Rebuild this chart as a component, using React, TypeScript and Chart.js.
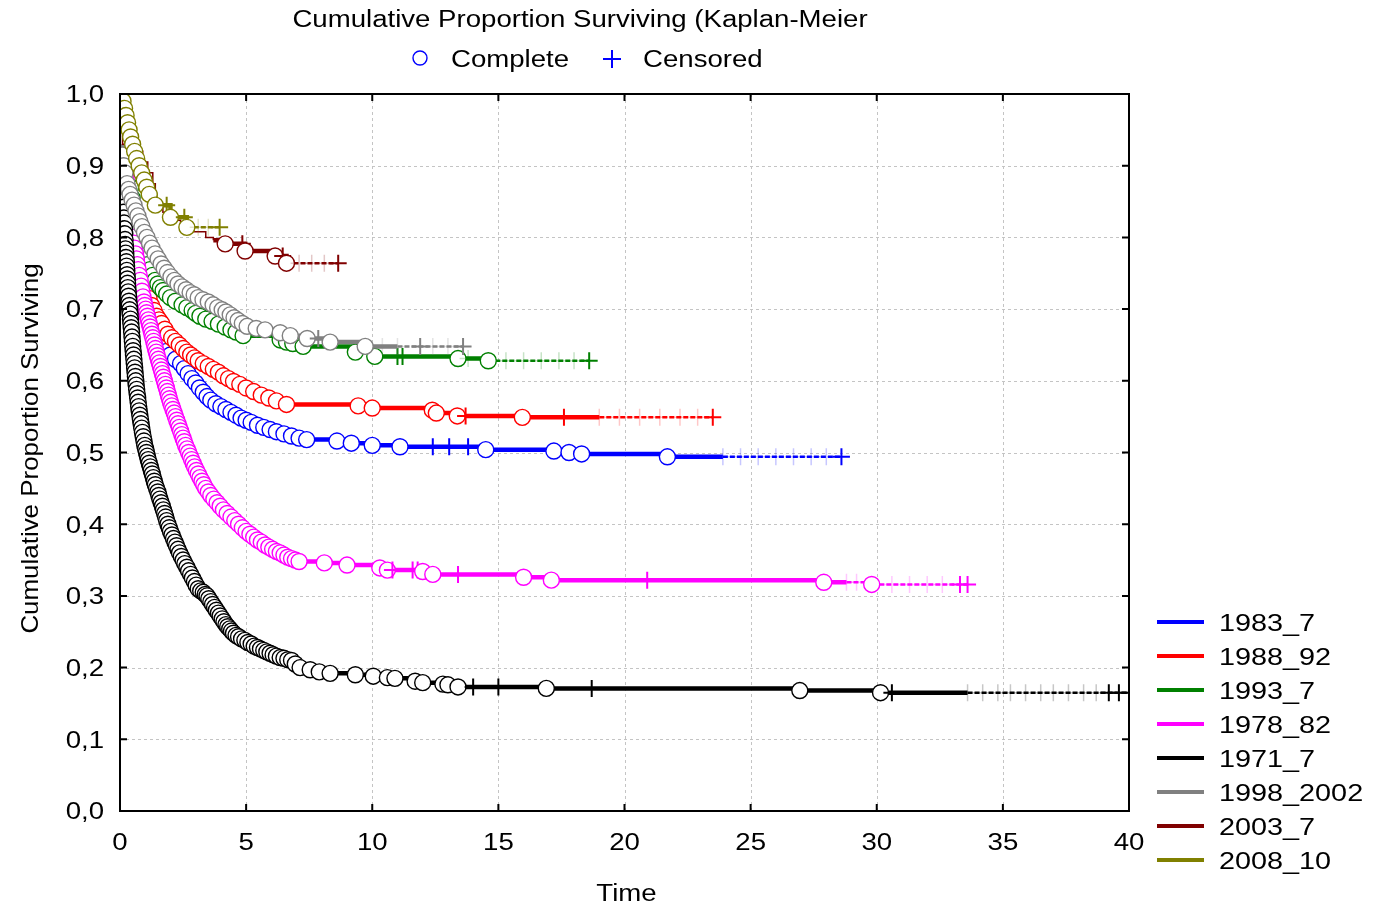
import React, { useEffect, useRef } from 'react';
import { Chart, registerables } from 'chart.js';

Chart.register(...registerables);

// ---------------- DATA ----------------
const seriesLabels = ['1983_7', '1988_92', '1993_7', '1978_82', '1971_7', '1998_2002', '2003_7', '2008_10'];
const seriesColors = ['#0000ff', '#ff0000', '#008000', '#ff00ff', '#000000', '#808080', '#800000', '#808000'];

const xTicks = [0, 5, 10, 15, 20, 25, 30, 35, 40];
const xTickLabels = ['0', '5', '10', '15', '20', '25', '30', '35', '40'];
const yTicks = [0, 0.1, 0.2, 0.3, 0.4, 0.5, 0.6, 0.7, 0.8, 0.9, 1.0];
const yTickLabels = ['0,0', '0,1', '0,2', '0,3', '0,4', '0,5', '0,6', '0,7', '0,8', '0,9', '1,0'];

// 1983_7
const blueTimes = [0.05, 0.1, 0.15, 0.2, 0.26, 0.32, 0.38, 0.45, 0.52, 0.6, 0.68, 0.77, 0.86, 0.96, 1.06, 1.16, 1.28, 1.4, 1.55, 1.7, 1.85, 2.0, 2.2, 2.4, 2.55, 2.7, 2.85, 3.0, 3.15, 3.3, 3.45, 3.6, 3.8, 4.0, 4.2, 4.4, 4.6, 4.8, 5.0, 5.2, 5.45, 5.7, 5.95, 6.2, 6.5, 6.8, 7.1, 7.4, 8.6, 9.17, 10.0, 11.1, 14.5, 17.2, 17.8, 18.3, 21.7];
const blueSurv = [0.98, 0.96, 0.94, 0.92, 0.9, 0.88, 0.86, 0.84, 0.82, 0.8, 0.78, 0.76, 0.74, 0.72, 0.705, 0.69, 0.678, 0.666, 0.655, 0.648, 0.641, 0.636, 0.63, 0.624, 0.617, 0.61, 0.603, 0.597, 0.59, 0.584, 0.578, 0.573, 0.568, 0.564, 0.56, 0.556, 0.552, 0.548, 0.545, 0.542, 0.538, 0.535, 0.532, 0.529, 0.526, 0.523, 0.52, 0.518, 0.516, 0.513, 0.51, 0.508, 0.504, 0.502, 0.5, 0.498, 0.494];
const blueCensored = [12.4, 13.05, 13.8, 28.6];
const blueFaintCensored = [23.9, 24.6, 25.3, 26.0, 26.7, 27.4, 28.0];
const blueDashFrom = 23.4;

// 1988_92
const redTimes = [0.05, 0.1, 0.15, 0.2, 0.26, 0.32, 0.38, 0.45, 0.52, 0.6, 0.68, 0.77, 0.86, 0.95, 1.05, 1.15, 1.25, 1.35, 1.45, 1.55, 1.65, 1.78, 1.9, 2.05, 2.2, 2.35, 2.5, 2.65, 2.8, 2.95, 3.1, 3.3, 3.5, 3.7, 3.9, 4.1, 4.3, 4.5, 4.75, 5.0, 5.3, 5.6, 5.9, 6.2, 6.6, 9.44, 10.0, 12.38, 12.54, 13.37, 15.95];
const redSurv = [0.98, 0.96, 0.94, 0.92, 0.9, 0.88, 0.86, 0.84, 0.82, 0.8, 0.78, 0.76, 0.745, 0.735, 0.725, 0.715, 0.705, 0.698, 0.69, 0.685, 0.68, 0.672, 0.665, 0.66, 0.655, 0.65, 0.645, 0.64, 0.636, 0.632, 0.628, 0.624, 0.62, 0.616, 0.612, 0.607, 0.603, 0.599, 0.595, 0.59, 0.585, 0.58, 0.576, 0.572, 0.567, 0.565, 0.562, 0.559, 0.555, 0.551, 0.549];
const redCensored = [13.7, 17.6, 23.5];
const redFaintCensored = [19.0, 19.8, 20.6, 21.4, 22.2, 22.9];
const redDashFrom = 18.3;

// 1993_7
const greenTimes = [0.05, 0.1, 0.15, 0.2, 0.25, 0.3, 0.36, 0.42, 0.48, 0.55, 0.62, 0.7, 0.79, 0.89, 0.99, 1.09, 1.19, 1.29, 1.39, 1.5, 1.6, 1.71, 1.85, 2.0, 2.2, 2.46, 2.65, 2.86, 3.0, 3.17, 3.4, 3.65, 3.9, 4.17, 4.4, 4.6, 4.88, 6.35, 6.6, 6.85, 7.26, 9.33, 10.1, 13.4, 14.6];
const greenSurv = [0.98, 0.96, 0.945, 0.93, 0.915, 0.9, 0.885, 0.87, 0.855, 0.84, 0.825, 0.81, 0.795, 0.78, 0.77, 0.762, 0.755, 0.747, 0.74, 0.735, 0.73, 0.726, 0.721, 0.716, 0.711, 0.706, 0.702, 0.698, 0.694, 0.69, 0.686, 0.683, 0.679, 0.675, 0.671, 0.668, 0.663, 0.657, 0.654, 0.652, 0.648, 0.64, 0.634, 0.631, 0.628];
const greenCensored = [11.0, 11.2, 18.6];
const greenFaintCensored = [13.8, 15.3, 16.0, 16.7, 17.4, 18.0];
const greenDashFrom = 14.6;

// 1978_82
const pinkTimes = [0.02, 0.04, 0.06, 0.08, 0.1, 0.12, 0.14, 0.16, 0.18, 0.2, 0.225, 0.25, 0.275, 0.3, 0.325, 0.35, 0.375, 0.4, 0.43, 0.46, 0.49, 0.52, 0.55, 0.58, 0.615, 0.65, 0.685, 0.72, 0.76, 0.8, 0.835, 0.87, 0.91, 0.95, 0.985, 1.02, 1.055, 1.09, 1.125, 1.16, 1.195, 1.23, 1.265, 1.3, 1.335, 1.37, 1.405, 1.44, 1.48, 1.52, 1.56, 1.6, 1.64, 1.68, 1.72, 1.76, 1.8, 1.84, 1.88, 1.92, 1.96, 2.0, 2.05, 2.1, 2.15, 2.2, 2.25, 2.3, 2.35, 2.4, 2.45, 2.5, 2.55, 2.6, 2.66, 2.72, 2.78, 2.84, 2.9, 2.96, 3.03, 3.1, 3.17, 3.25, 3.32, 3.4, 3.5, 3.6, 3.72, 3.85, 3.97, 4.1, 4.25, 4.4, 4.55, 4.7, 4.85, 5.0, 5.15, 5.3, 5.45, 5.6, 5.75, 5.9, 6.05, 6.2, 6.35, 6.5, 6.65, 6.8, 6.95, 7.1, 8.1, 9.0, 10.3, 10.6, 12.0, 12.4, 16.0, 17.1, 27.9, 29.8];
const pinkSurv = [0.99, 0.98, 0.97, 0.96, 0.95, 0.94, 0.93, 0.92, 0.91, 0.9, 0.89, 0.88, 0.87, 0.86, 0.852, 0.845, 0.837, 0.83, 0.822, 0.815, 0.807, 0.8, 0.792, 0.785, 0.777, 0.77, 0.762, 0.755, 0.747, 0.74, 0.732, 0.725, 0.717, 0.71, 0.705, 0.7, 0.695, 0.69, 0.685, 0.68, 0.675, 0.67, 0.665, 0.66, 0.655, 0.65, 0.645, 0.64, 0.635, 0.63, 0.625, 0.62, 0.615, 0.61, 0.605, 0.6, 0.595, 0.59, 0.585, 0.58, 0.575, 0.57, 0.565, 0.56, 0.555, 0.55, 0.545, 0.54, 0.535, 0.53, 0.525, 0.52, 0.515, 0.51, 0.505, 0.5, 0.495, 0.49, 0.485, 0.48, 0.475, 0.47, 0.465, 0.46, 0.455, 0.45, 0.445, 0.44, 0.435, 0.43, 0.425, 0.42, 0.415, 0.41, 0.405, 0.4, 0.395, 0.39, 0.386, 0.382, 0.378, 0.375, 0.371, 0.368, 0.365, 0.362, 0.36, 0.357, 0.354, 0.352, 0.35, 0.348, 0.346, 0.343, 0.339, 0.336, 0.334, 0.33, 0.326, 0.322, 0.319, 0.316];
const pinkCensored = [10.8, 11.6, 11.8, 13.4, 20.9, 33.3, 33.6];
const pinkFaintCensored = [28.8, 29.2, 30.6, 31.3, 32.0, 32.6];
const pinkDashFrom = 28.2;

// 1971_7
const blackTimes = [0.03, 0.04, 0.05, 0.06, 0.07, 0.08, 0.09, 0.1, 0.11, 0.12, 0.13, 0.14, 0.15, 0.16, 0.17, 0.18, 0.19, 0.2, 0.21, 0.22, 0.23, 0.24, 0.25, 0.26, 0.27, 0.28, 0.29, 0.3, 0.31, 0.325, 0.34, 0.355, 0.37, 0.385, 0.4, 0.415, 0.43, 0.445, 0.46, 0.475, 0.49, 0.505, 0.52, 0.535, 0.55, 0.565, 0.58, 0.595, 0.61, 0.625, 0.64, 0.66, 0.68, 0.7, 0.72, 0.74, 0.76, 0.785, 0.81, 0.835, 0.86, 0.89, 0.92, 0.95, 0.98, 1.015, 1.05, 1.085, 1.12, 1.16, 1.2, 1.24, 1.28, 1.32, 1.36, 1.4, 1.45, 1.5, 1.54, 1.58, 1.63, 1.68, 1.72, 1.77, 1.81, 1.85, 1.9, 1.95, 2.0, 2.06, 2.12, 2.18, 2.24, 2.3, 2.36, 2.43, 2.5, 2.57, 2.65, 2.72, 2.8, 2.87, 2.95, 3.02, 3.1, 3.2, 3.3, 3.38, 3.45, 3.52, 3.6, 3.67, 3.75, 3.82, 3.9, 3.97, 4.05, 4.12, 4.2, 4.27, 4.35, 4.42, 4.5, 4.6, 4.7, 4.82, 4.95, 5.07, 5.2, 5.32, 5.45, 5.57, 5.7, 5.82, 5.95, 6.07, 6.2, 6.35, 6.5, 6.65, 6.8, 6.95, 7.14, 7.54, 7.9, 8.33, 9.33, 10.04, 10.6, 10.9, 11.7, 12.0, 12.8, 13.0, 13.4, 16.9, 26.95, 30.15];
const blackSurv = [0.97, 0.955, 0.94, 0.925, 0.91, 0.895, 0.88, 0.872, 0.865, 0.857, 0.85, 0.842, 0.835, 0.827, 0.82, 0.812, 0.805, 0.797, 0.79, 0.784, 0.778, 0.772, 0.766, 0.76, 0.754, 0.748, 0.742, 0.736, 0.73, 0.724, 0.718, 0.711, 0.705, 0.699, 0.693, 0.686, 0.68, 0.674, 0.668, 0.661, 0.655, 0.648, 0.642, 0.636, 0.63, 0.624, 0.618, 0.612, 0.606, 0.6, 0.594, 0.588, 0.582, 0.576, 0.57, 0.564, 0.558, 0.552, 0.546, 0.54, 0.534, 0.528, 0.522, 0.516, 0.51, 0.505, 0.5, 0.495, 0.49, 0.485, 0.48, 0.475, 0.47, 0.465, 0.46, 0.455, 0.45, 0.445, 0.44, 0.435, 0.43, 0.425, 0.42, 0.415, 0.41, 0.405, 0.4, 0.395, 0.39, 0.385, 0.38, 0.375, 0.37, 0.365, 0.36, 0.355, 0.35, 0.345, 0.34, 0.335, 0.33, 0.325, 0.32, 0.315, 0.31, 0.307, 0.305, 0.302, 0.3, 0.296, 0.292, 0.288, 0.284, 0.28, 0.276, 0.272, 0.268, 0.264, 0.26, 0.257, 0.254, 0.251, 0.248, 0.245, 0.243, 0.24, 0.238, 0.235, 0.233, 0.23, 0.228, 0.226, 0.224, 0.222, 0.22, 0.218, 0.216, 0.214, 0.213, 0.211, 0.21, 0.205, 0.2, 0.197, 0.194, 0.192, 0.19, 0.188, 0.186, 0.185, 0.181, 0.179, 0.177, 0.176, 0.173, 0.171, 0.168, 0.165];
const blackCensored = [14.0, 15.0, 18.7, 30.6, 39.2, 39.6, 40.0];
const blackFaintCensored = [33.6, 34.2, 34.8, 35.3, 35.9, 36.5, 37.0, 37.6, 38.2, 38.7];
const blackDashFrom = 33.1;

// 1998_2002
const grayTimes = [0.02, 0.05, 0.1, 0.15, 0.2, 0.28, 0.34, 0.4, 0.48, 0.56, 0.63, 0.71, 0.79, 0.87, 0.97, 1.07, 1.17, 1.27, 1.39, 1.51, 1.63, 1.75, 1.88, 2.02, 2.16, 2.3, 2.46, 2.62, 2.78, 2.94, 3.1, 3.29, 3.5, 3.69, 3.87, 4.05, 4.2, 4.37, 4.52, 4.68, 4.85, 5.04, 5.4, 5.75, 6.35, 6.75, 7.42, 8.33, 9.72];
const graySurv = [0.97, 0.94, 0.915, 0.9, 0.89, 0.875, 0.867, 0.86, 0.852, 0.845, 0.837, 0.83, 0.822, 0.815, 0.807, 0.8, 0.792, 0.785, 0.777, 0.77, 0.763, 0.757, 0.751, 0.745, 0.74, 0.735, 0.731, 0.727, 0.723, 0.72, 0.716, 0.713, 0.71, 0.706, 0.702, 0.699, 0.696, 0.692, 0.688, 0.684, 0.68, 0.676, 0.673, 0.671, 0.667, 0.663, 0.659, 0.654, 0.648];
const grayCensored = [7.86, 11.9, 13.6];
const grayFaintCensored = [10.4, 11.0, 12.4, 13.0];
const grayDashFrom = 11.0;

// 2003_7 (early steps drawn without markers)
const darkRedStepTimes = [0.05, 0.1, 0.6, 0.9, 1.1, 1.3, 1.4, 1.45, 1.7, 2.0, 2.4, 2.9, 3.4, 3.7];
const darkRedStepSurv = [0.97, 0.93, 0.92, 0.905, 0.89, 0.875, 0.86, 0.845, 0.835, 0.824, 0.815, 0.808, 0.8, 0.796];
const darkRedTimes = [4.17, 4.96, 6.15, 6.6];
const darkRedSurv = [0.791, 0.781, 0.774, 0.764];
const darkRedCensored = [4.85, 6.45, 8.65];
const darkRedFaintCensored = [7.1, 7.6, 8.1];
const darkRedDashFrom = 6.6;

// 2008_10
const oliveTimes = [0.12, 0.18, 0.24, 0.3, 0.36, 0.42, 0.5, 0.58, 0.66, 0.76, 0.86, 0.96, 1.06, 1.16, 1.4, 2.0, 2.65];
const oliveSurv = [0.99, 0.98, 0.97, 0.96, 0.95, 0.94, 0.93, 0.92, 0.91, 0.9, 0.89, 0.88, 0.87, 0.86, 0.845, 0.828, 0.814];
const oliveCensored = [1.85, 2.55, 3.95];
const oliveFaintCensored = [3.1, 3.5];
const oliveDashFrom = 2.65;

// ---------------- BUILD ----------------
type Pt = { x: number; y: number; k: string };

function buildCurve(evT: number[], evS: number[], cenT: number[], faintT: number[], stT: number[] = [], stS: number[] = []): Pt[] {
  const items: { x: number; y: number; k: string; o: number }[] = [];
  const n = Math.min(evT.length, evS.length);
  for (let i = 0; i < n; i++) items.push({ x: evT[i], y: evS[i], k: 'o', o: 0 });
  const m = Math.min(stT.length, stS.length);
  for (let i = 0; i < m; i++) items.push({ x: stT[i], y: stS[i], k: '-', o: 0 });
  for (const t of cenT) items.push({ x: t, y: NaN, k: '+', o: 1 });
  for (const t of faintT) items.push({ x: t, y: NaN, k: 'f', o: 1 });
  items.sort((a, b) => a.x - b.x || a.o - b.o);
  let cur = 1;
  const pts: Pt[] = [{ x: 0, y: 1, k: '-' }];
  for (const it of items) {
    if (it.k === '+' || it.k === 'f') pts.push({ x: it.x, y: cur, k: it.k });
    else {
      cur = it.y;
      pts.push({ x: it.x, y: cur, k: it.k });
    }
  }
  return pts;
}

const curves = [
  buildCurve(blueTimes, blueSurv, blueCensored, blueFaintCensored),
  buildCurve(redTimes, redSurv, redCensored, redFaintCensored),
  buildCurve(greenTimes, greenSurv, greenCensored, greenFaintCensored),
  buildCurve(pinkTimes, pinkSurv, pinkCensored, pinkFaintCensored),
  buildCurve(blackTimes, blackSurv, blackCensored, blackFaintCensored),
  buildCurve(grayTimes, graySurv, grayCensored, grayFaintCensored),
  buildCurve(darkRedTimes, darkRedSurv, darkRedCensored, darkRedFaintCensored, darkRedStepTimes, darkRedStepSurv),
  buildCurve(oliveTimes, oliveSurv, oliveCensored, oliveFaintCensored),
];
const dashFromTimes = [blueDashFrom, redDashFrom, greenDashFrom, pinkDashFrom, blackDashFrom, grayDashFrom, darkRedDashFrom, oliveDashFrom];

// ---------------- DRAW HELPERS ----------------
const FONT = '"Liberation Sans", Arial, sans-serif';

function drawText(ctx: CanvasRenderingContext2D, s: string, x: number, y: number, size: number, align: CanvasTextAlign, sx = 1.2, rot = 0) {
  ctx.save();
  ctx.translate(x, y);
  if (rot) ctx.rotate(rot);
  ctx.scale(sx, 1);
  ctx.font = `${size}px ${FONT}`;
  ctx.textAlign = align;
  ctx.textBaseline = 'middle';
  ctx.fillStyle = '#000';
  ctx.fillText(s, 0, 0);
  ctx.restore();
}

function fade(hex: string, a: number) {
  const r = parseInt(hex.slice(1, 3), 16);
  const g = parseInt(hex.slice(3, 5), 16);
  const b = parseInt(hex.slice(5, 7), 16);
  return `rgba(${r},${g},${b},${a})`;
}

const decorPlugin = {
  id: 'decor',
  beforeDatasetsDraw(chart: any) {
    const { ctx, chartArea, scales } = chart;
    const { left, right, top, bottom } = chartArea;
    ctx.save();
    ctx.strokeStyle = '#c4c4c4';
    ctx.lineWidth = 1;
    ctx.setLineDash([3, 3]);
    for (const v of xTicks) {
      if (v === xTicks[0] || v === xTicks[xTicks.length - 1]) continue;
      const px = Math.round(scales.x.getPixelForValue(v)) + 0.5;
      ctx.beginPath();
      ctx.moveTo(px, top);
      ctx.lineTo(px, bottom);
      ctx.stroke();
    }
    for (const v of yTicks) {
      if (v === yTicks[0] || v === yTicks[yTicks.length - 1]) continue;
      const py = Math.round(scales.y.getPixelForValue(v)) + 0.5;
      ctx.beginPath();
      ctx.moveTo(left, py);
      ctx.lineTo(right, py);
      ctx.stroke();
    }
    ctx.restore();
  },
  afterDatasetsDraw(chart: any) {
    const { ctx, chartArea, scales } = chart;
    const { left, right, top, bottom } = chartArea;
    ctx.save();
    ctx.setLineDash([]);
    ctx.strokeStyle = '#000';
    ctx.lineWidth = 2;
    ctx.strokeRect(left, top, right - left, bottom - top);
    const tl = 7;
    ctx.beginPath();
    for (const v of xTicks) {
      const px = scales.x.getPixelForValue(v);
      ctx.moveTo(px, bottom);
      ctx.lineTo(px, bottom - tl);
      ctx.moveTo(px, top);
      ctx.lineTo(px, top + tl);
    }
    for (const v of yTicks) {
      const py = scales.y.getPixelForValue(v);
      ctx.moveTo(left, py);
      ctx.lineTo(left + tl, py);
      ctx.moveTo(right, py);
      ctx.lineTo(right - tl, py);
    }
    ctx.stroke();
    ctx.restore();
  },
  afterDraw(chart: any) {
    const { ctx, chartArea, scales } = chart;
    const { left, bottom, top } = chartArea;
    // tick labels
    xTicks.forEach((v, i) => drawText(ctx, xTickLabels[i], scales.x.getPixelForValue(v), bottom + 33, 23, 'center'));
    yTicks.forEach((v, i) => drawText(ctx, yTickLabels[i], left - 16, scales.y.getPixelForValue(v) + 2, 23, 'right'));
    // axis titles
    drawText(ctx, 'Time', (chartArea.left + chartArea.right) / 2 + 2, 895, 23, 'center');
    drawText(ctx, 'Cumulative Proportion Surviving', 31, (top + bottom) / 2 - 4, 24, 'center', 1.08, -Math.PI / 2);
    // main title
    drawText(ctx, 'Cumulative Proportion Surviving (Kaplan-Meier', 580, 21, 23, 'center');
    // marker legend
    ctx.save();
    ctx.strokeStyle = '#0000ff';
    ctx.lineWidth = 1.4;
    ctx.beginPath();
    ctx.arc(420, 58, 7, 0, Math.PI * 2);
    ctx.stroke();
    ctx.lineWidth = 2;
    ctx.beginPath();
    ctx.moveTo(603, 59);
    ctx.lineTo(621, 59);
    ctx.moveTo(612, 50);
    ctx.lineTo(612, 68);
    ctx.stroke();
    ctx.restore();
    drawText(ctx, 'Complete', 451, 61, 23, 'left');
    drawText(ctx, 'Censored', 643, 61, 23, 'left');
    // series legend
    seriesLabels.forEach((lab, i) => {
      const yy = 622 + i * 34;
      ctx.save();
      ctx.strokeStyle = seriesColors[i];
      ctx.lineWidth = 4;
      ctx.beginPath();
      ctx.moveTo(1157, yy);
      ctx.lineTo(1204, yy);
      ctx.stroke();
      ctx.restore();
      drawText(ctx, lab, 1219, yy + 2, 24, 'left');
    });
  },
};

// draw order: last in legend on top
const drawOrder = [7, 6, 5, 4, 3, 2, 1, 0];

export default function App() {
  const ref = useRef<HTMLCanvasElement | null>(null);
  useEffect(() => {
    document.body.style.margin = '0';
    const canvas = ref.current;
    if (!canvas) return;
    const datasets = drawOrder.map((si) => {
      const color = seriesColors[si];
      const faint = fade(color, 0.22);
      const dashFrom = dashFromTimes[si];
      const pts = curves[si];
      return {
        label: seriesLabels[si],
        data: pts,
        borderColor: color,
        backgroundColor: color,
        borderWidth: 4.5,
        stepped: 'before',
        fill: false,
        tension: 0,
        pointStyle: (c: any) => (c.raw && (c.raw.k === '+' || c.raw.k === 'f') ? 'cross' : 'circle'),
        pointRadius: (c: any) => (!c.raw || c.raw.k === '-' ? 0 : c.raw.k === 'o' ? 8 : 8.5),
        pointBorderWidth: (c: any) => (c.raw && c.raw.k === '+' ? 2 : c.raw && c.raw.k === 'f' ? 1.5 : 1.4),
        pointBorderColor: (c: any) => (c.raw && c.raw.k === 'f' ? faint : color),
        pointBackgroundColor: '#ffffff',
        pointHoverRadius: 0,
        segment: {
          borderDash: (c: any) => (c.p0.parsed.x >= dashFrom - 1e-6 ? [5, 2] : undefined),
          borderWidth: (c: any) => {
            if (c.p0.parsed.x >= dashFrom - 1e-6) return 2.5;
            const p = pts[c.p1DataIndex];
            if (p && p.k === '-' && c.p0DataIndex > 0) return 1.5;
            return undefined;
          },
        },
      };
    });
    const chart = new Chart(canvas, {
      type: 'line',
      data: { datasets: datasets as any },
      options: {
        animation: false,
        responsive: false,
        devicePixelRatio: 1,
        events: [],
        parsing: false as any,
        normalized: true,
        layout: { padding: { left: 120, right: 251, top: 94, bottom: 96 } },
        scales: {
          x: { type: 'linear', display: false, min: 0, max: 40 },
          y: { type: 'linear', display: false, min: 0, max: 1 },
        },
        plugins: {
          legend: { display: false },
          title: { display: false },
          tooltip: { enabled: false },
        },
      },
      plugins: [decorPlugin],
    });
    return () => chart.destroy();
  }, []);
  return (
    <div style={{ width: 1380, height: 907, position: 'relative', background: '#fff' }}>
      <canvas ref={ref} width={1380} height={907} style={{ display: 'block', width: 1380, height: 907 }} />
    </div>
  );
}
